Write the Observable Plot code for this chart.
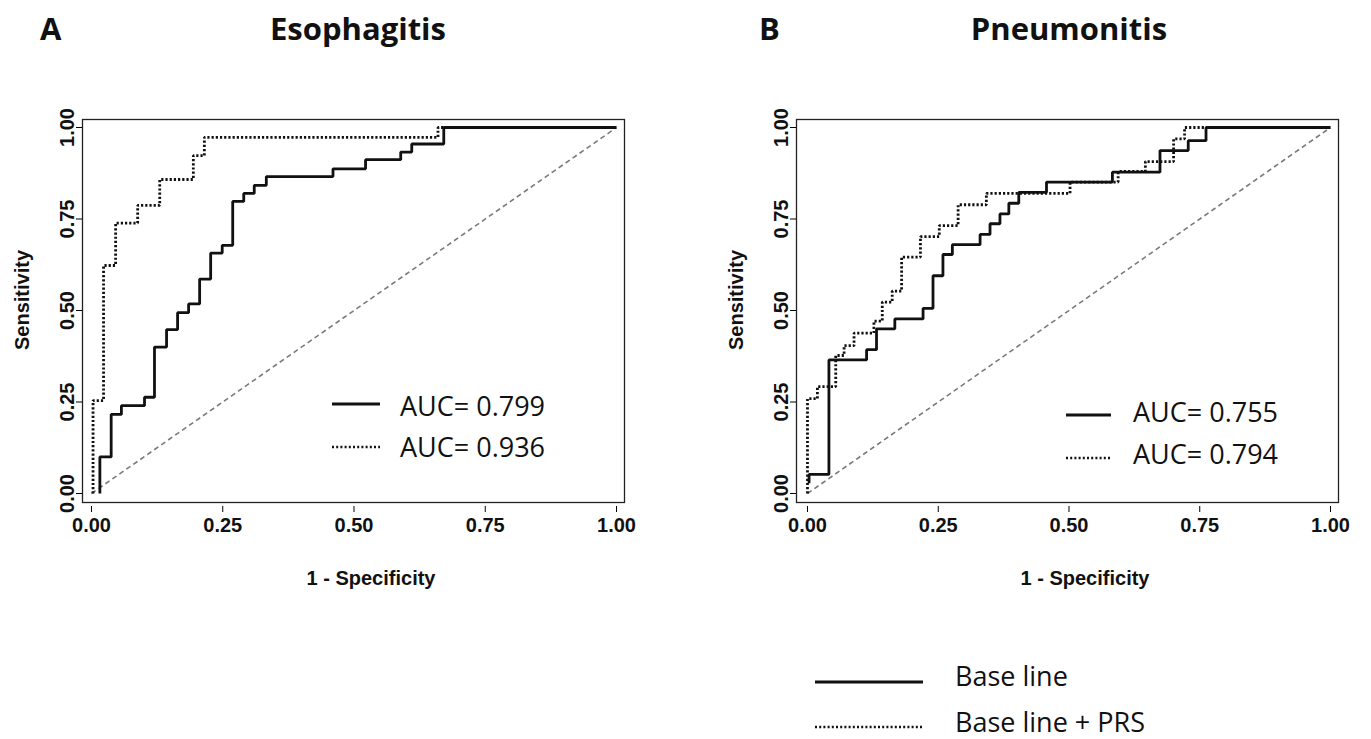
<!DOCTYPE html>
<html><head><meta charset="utf-8">
<script src="https://cdn.jsdelivr.net/npm/d3@7"></script>
<script src="https://cdn.jsdelivr.net/npm/@observablehq/plot@0.6"></script>
<style>
body{margin:0;background:#fff;}
#root{position:relative;width:1371px;height:739px;overflow:hidden;background:#fff;}
#root > svg, #root > figure{position:absolute;margin:0;}
</style></head><body><div id="root"></div>
<script>
// ---- data ----
const ticks = [0, 0.25, 0.5, 0.75, 1];
const tickLabels = ["0.00", "0.25", "0.50", "0.75", "1.00"];
const panelLetters = ["A", "B"];
const panelTitles = ["Esophagitis", "Pneumonitis"];
const xTitle = "1 - Specificity";
const yTitle = "Sensitivity";
const seriesNames = ["Base line", "Base line + PRS"];
const aucEso = ["AUC= 0.799", "AUC= 0.936"];
const aucPneu = ["AUC= 0.755", "AUC= 0.794"];
const chance = [0, 1];

// Esophagitis, base line model
const esoBaseFpr = [0.016, 0.016, 0.0375, 0.057, 0.101, 0.12, 0.143, 0.164, 0.185, 0.206, 0.227, 0.249, 0.269, 0.29, 0.31, 0.333, 0.46, 0.522, 0.589, 0.61, 0.671, 1.0];
const esoBaseTpr = [0.0, 0.10, 0.216, 0.24, 0.263, 0.40, 0.448, 0.494, 0.518, 0.586, 0.657, 0.678, 0.798, 0.82, 0.842, 0.866, 0.887, 0.912, 0.933, 0.955, 1.0, 1.0];
// Esophagitis, base line + PRS
const esoPrsFpr = [0.003, 0.003, 0.023, 0.046, 0.088, 0.13, 0.194, 0.215, 0.66, 1.0];
const esoPrsTpr = [0.0, 0.254, 0.623, 0.739, 0.787, 0.858, 0.923, 0.973, 1.0, 1.0];
// Pneumonitis, base line model
const pneuBaseFpr = [0.003, 0.003, 0.041, 0.113, 0.132, 0.167, 0.221, 0.24, 0.259, 0.277, 0.33, 0.349, 0.368, 0.385, 0.404, 0.457, 0.583, 0.674, 0.728, 0.762, 1.0];
const pneuBaseTpr = [0.028, 0.052, 0.365, 0.393, 0.45, 0.477, 0.506, 0.595, 0.653, 0.68, 0.708, 0.737, 0.764, 0.793, 0.823, 0.851, 0.878, 0.937, 0.964, 1.0, 1.0];
// Pneumonitis, base line + PRS
const pneuPrsFpr = [0.0, 0.0, 0.019, 0.054, 0.07, 0.089, 0.127, 0.143, 0.162, 0.18, 0.216, 0.252, 0.288, 0.342, 0.502, 0.594, 0.646, 0.70, 0.721, 1.0];
const pneuPrsTpr = [0.0, 0.259, 0.292, 0.377, 0.404, 0.438, 0.471, 0.523, 0.553, 0.646, 0.702, 0.732, 0.789, 0.82, 0.851, 0.88, 0.907, 0.969, 1.0, 1.0];

// ---- drawing ----
const root = document.getElementById("root");
const tickFont = "'Liberation Sans', Arial, sans-serif";

function panel(baseX, baseY, prsX, prsY, xDomain, yDomain, width, marginRight) {
  const base = baseX.map((x, i) => ({x, y: baseY[i]}));
  const prs = prsX.map((x, i) => ({x, y: prsY[i]}));
  const diag = chance.map(v => ({x: v, y: v}));
  return Plot.plot({
    width, height: 600,
    marginLeft: 82, marginRight, marginTop: 119, marginBottom: 98,
    x: {domain: xDomain},
    y: {domain: yDomain},
    style: {background: "transparent", overflow: "visible"},
    marks: [
      Plot.line(diag, {x: "x", y: "y", stroke: "#7a7a7a", strokeWidth: 1.6, strokeDasharray: "5,3.5", strokeLinecap: "butt"}),
      Plot.line(prs, {x: "x", y: "y", curve: "step-after", stroke: "#111", strokeWidth: 2.8, strokeDasharray: "2.2,2", strokeLinecap: "butt", strokeLinejoin: "miter"}),
      Plot.line(base, {x: "x", y: "y", curve: "step-after", stroke: "#111", strokeWidth: 2.8, strokeLinecap: "butt", strokeLinejoin: "miter"}),
      Plot.frame({stroke: "#222", strokeWidth: 1.3}),
      Plot.axisX(ticks, {tickSize: 6, tickPadding: 5, dy: 4, tickFormat: (d) => tickLabels[ticks.indexOf(d)],
        fontSize: 20, fontWeight: "bold", fontFamily: tickFont, fill: "#111", label: null}),
      Plot.axisY(ticks, {tickSize: 6, tickPadding: 3, tickRotate: -90, tickFormat: d => tickLabels[ticks.indexOf(d)],
        fontSize: 20, fontWeight: "bold", fontFamily: tickFont, fill: "#111", label: null})
    ]
  });
}

const pA = panel(esoBaseFpr, esoBaseTpr, esoPrsFpr, esoPrsTpr, [-0.0171, 1.0152], [-0.0246, 1.0219], 700, 76);
pA.style.left = "0px"; pA.style.top = "0px";
root.appendChild(pA);
const pB = panel(pneuBaseFpr, pneuBaseTpr, pneuPrsFpr, pneuPrsTpr, [-0.021, 1.0153], [-0.0246, 1.0219], 657, 33);
pB.style.left = "714px"; pB.style.top = "0px";
root.appendChild(pB);

// ---- annotation overlay: titles, axis titles, legends ----
const ns = "http://www.w3.org/2000/svg";
const ov = document.createElementNS(ns, "svg");
ov.setAttribute("width", 1371); ov.setAttribute("height", 739);
ov.style.left = "0px"; ov.style.top = "0px"; ov.style.pointerEvents = "none";
root.appendChild(ov);
function txt(s, x, y, o = {}) {
  const t = document.createElementNS(ns, "text");
  t.textContent = s;
  t.setAttribute("x", x); t.setAttribute("y", y);
  t.setAttribute("font-family", o.family || "'Open Sans', sans-serif");
  t.setAttribute("font-size", o.size || 27);
  t.setAttribute("font-weight", o.weight || "normal");
  t.setAttribute("text-anchor", o.anchor || "start");
  t.setAttribute("fill", "#111");
  if (o.rotate) t.setAttribute("transform", `rotate(${o.rotate},${x},${y})`);
  ov.appendChild(t);
}
function seg(x1, x2, y, dotted, w) {
  const l = document.createElementNS(ns, "line");
  l.setAttribute("x1", x1); l.setAttribute("x2", x2);
  l.setAttribute("y1", y); l.setAttribute("y2", y);
  l.setAttribute("stroke", "#111");
  l.setAttribute("stroke-width", w || (dotted ? 2.6 : 2.8));
  if (dotted) l.setAttribute("stroke-dasharray", "2,2.2");
  ov.appendChild(l);
}
// panel letters and titles
txt(panelLetters[0], 40, 40, {size: 31, weight: "bold"});
txt(panelTitles[0], 358, 40, {size: 31, weight: "bold", anchor: "middle"});
txt(panelLetters[1], 759, 40, {size: 31, weight: "bold"});
txt(panelTitles[1], 1069, 40, {size: 31, weight: "bold", anchor: "middle"});
// axis titles
txt(yTitle, 29, 300, {family: tickFont, size: 20, weight: "bold", anchor: "middle", rotate: -90});
txt(yTitle, 743, 300, {family: tickFont, size: 20, weight: "bold", anchor: "middle", rotate: -90});
txt(xTitle, 371, 585, {family: tickFont, size: 20, weight: "bold", anchor: "middle"});
txt(xTitle, 1085, 585, {family: tickFont, size: 20, weight: "bold", anchor: "middle"});
// AUC legends
seg(332, 380, 404, false); txt(aucEso[0], 400, 416);
seg(332, 380, 447, true);  txt(aucEso[1], 400, 457);
seg(1066, 1111, 415, false); txt(aucPneu[0], 1133, 422);
seg(1066, 1111, 458, true);  txt(aucPneu[1], 1133, 464);
// bottom legend
seg(815, 923, 682, false, 3); txt(seriesNames[0], 955, 686);
seg(815, 923, 727, true, 2.6); txt(seriesNames[1], 955, 732);
</script></body></html>
